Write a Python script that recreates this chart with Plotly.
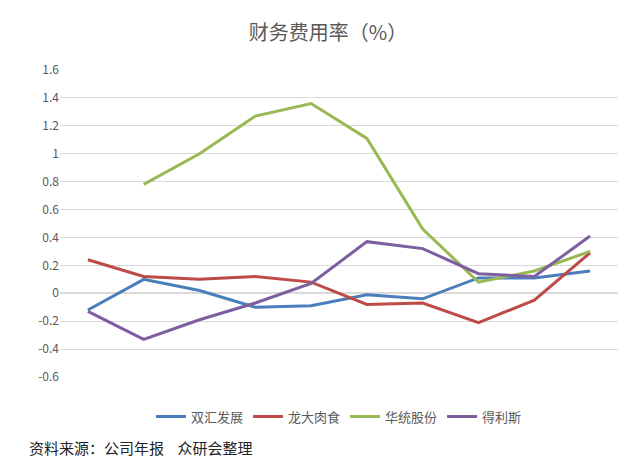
import plotly.graph_objects as go

years = ["2010", "2011", "2012", "2013", "2014", "2015", "2016", "2017", "2018", "2019"]
shuanghui = [-0.12, 0.10, 0.02, -0.10, -0.09, -0.01, -0.04, 0.11, 0.11, 0.16]
longda = [0.24, 0.12, 0.10, 0.12, 0.08, -0.08, -0.07, -0.21, -0.05, 0.29]
huatong = [None, 0.78, 1.00, 1.27, 1.36, 1.11, 0.46, 0.08, 0.16, 0.30]
delisi = [-0.13, -0.33, -0.19, -0.07, 0.07, 0.37, 0.32, 0.14, 0.12, 0.41]
y_ticks = [-0.6, -0.4, -0.2, 0, 0.2, 0.4, 0.6, 0.8, 1, 1.2, 1.4, 1.6]

series = [("双汇发展", shuanghui, "#4a7ebb"), ("龙大肉食", longda, "#be4b48"),
          ("华统股份", huatong, "#98b954"), ("得利斯", delisi, "#7d5fa0")]

fig = go.Figure()
for name, vals, col in series:
    fig.add_trace(go.Scatter(x=years, y=vals, mode="lines", name=name,
                             line=dict(color=col, width=3)))

# category labels sit just under the zero line
for yr in years:
    fig.add_annotation(x=yr, y=0, text=yr, showarrow=False, yanchor="top", yshift=-6,
                       font=dict(size=12, color="#595959"))

fig.add_annotation(text="资料来源：公司年报    众研会整理", xref="paper", yref="paper",
                   x=-0.06, y=-0.27, xanchor="left", showarrow=False,
                   font=dict(size=15, color="#222"))

fig.update_layout(
    width=640, height=457, plot_bgcolor="white", paper_bgcolor="white",
    font=dict(family="Noto Sans CJK SC", color="#595959"),
    title=dict(text="财务费用率（%）", x=0.5, y=0.96, font=dict(size=20, color="#595959")),
    margin=dict(l=52, r=30, t=62, b=88),
    xaxis=dict(type="category", range=[-0.5, 9.5], showticklabels=False,
               showgrid=False, zeroline=False, showline=False),
    yaxis=dict(range=[-0.6, 1.6], tickvals=y_ticks, ticktext=[f"{v:g}" for v in y_ticks],
               gridcolor="#d9d9d9", zeroline=True, zerolinecolor="#d9d9d9",
               tickfont=dict(size=12)),
    legend=dict(orientation="h", x=0.5, xanchor="center", y=-0.08, yanchor="top",
                font=dict(size=13, color="#595959")),
)
fig.write_html("out.html")
